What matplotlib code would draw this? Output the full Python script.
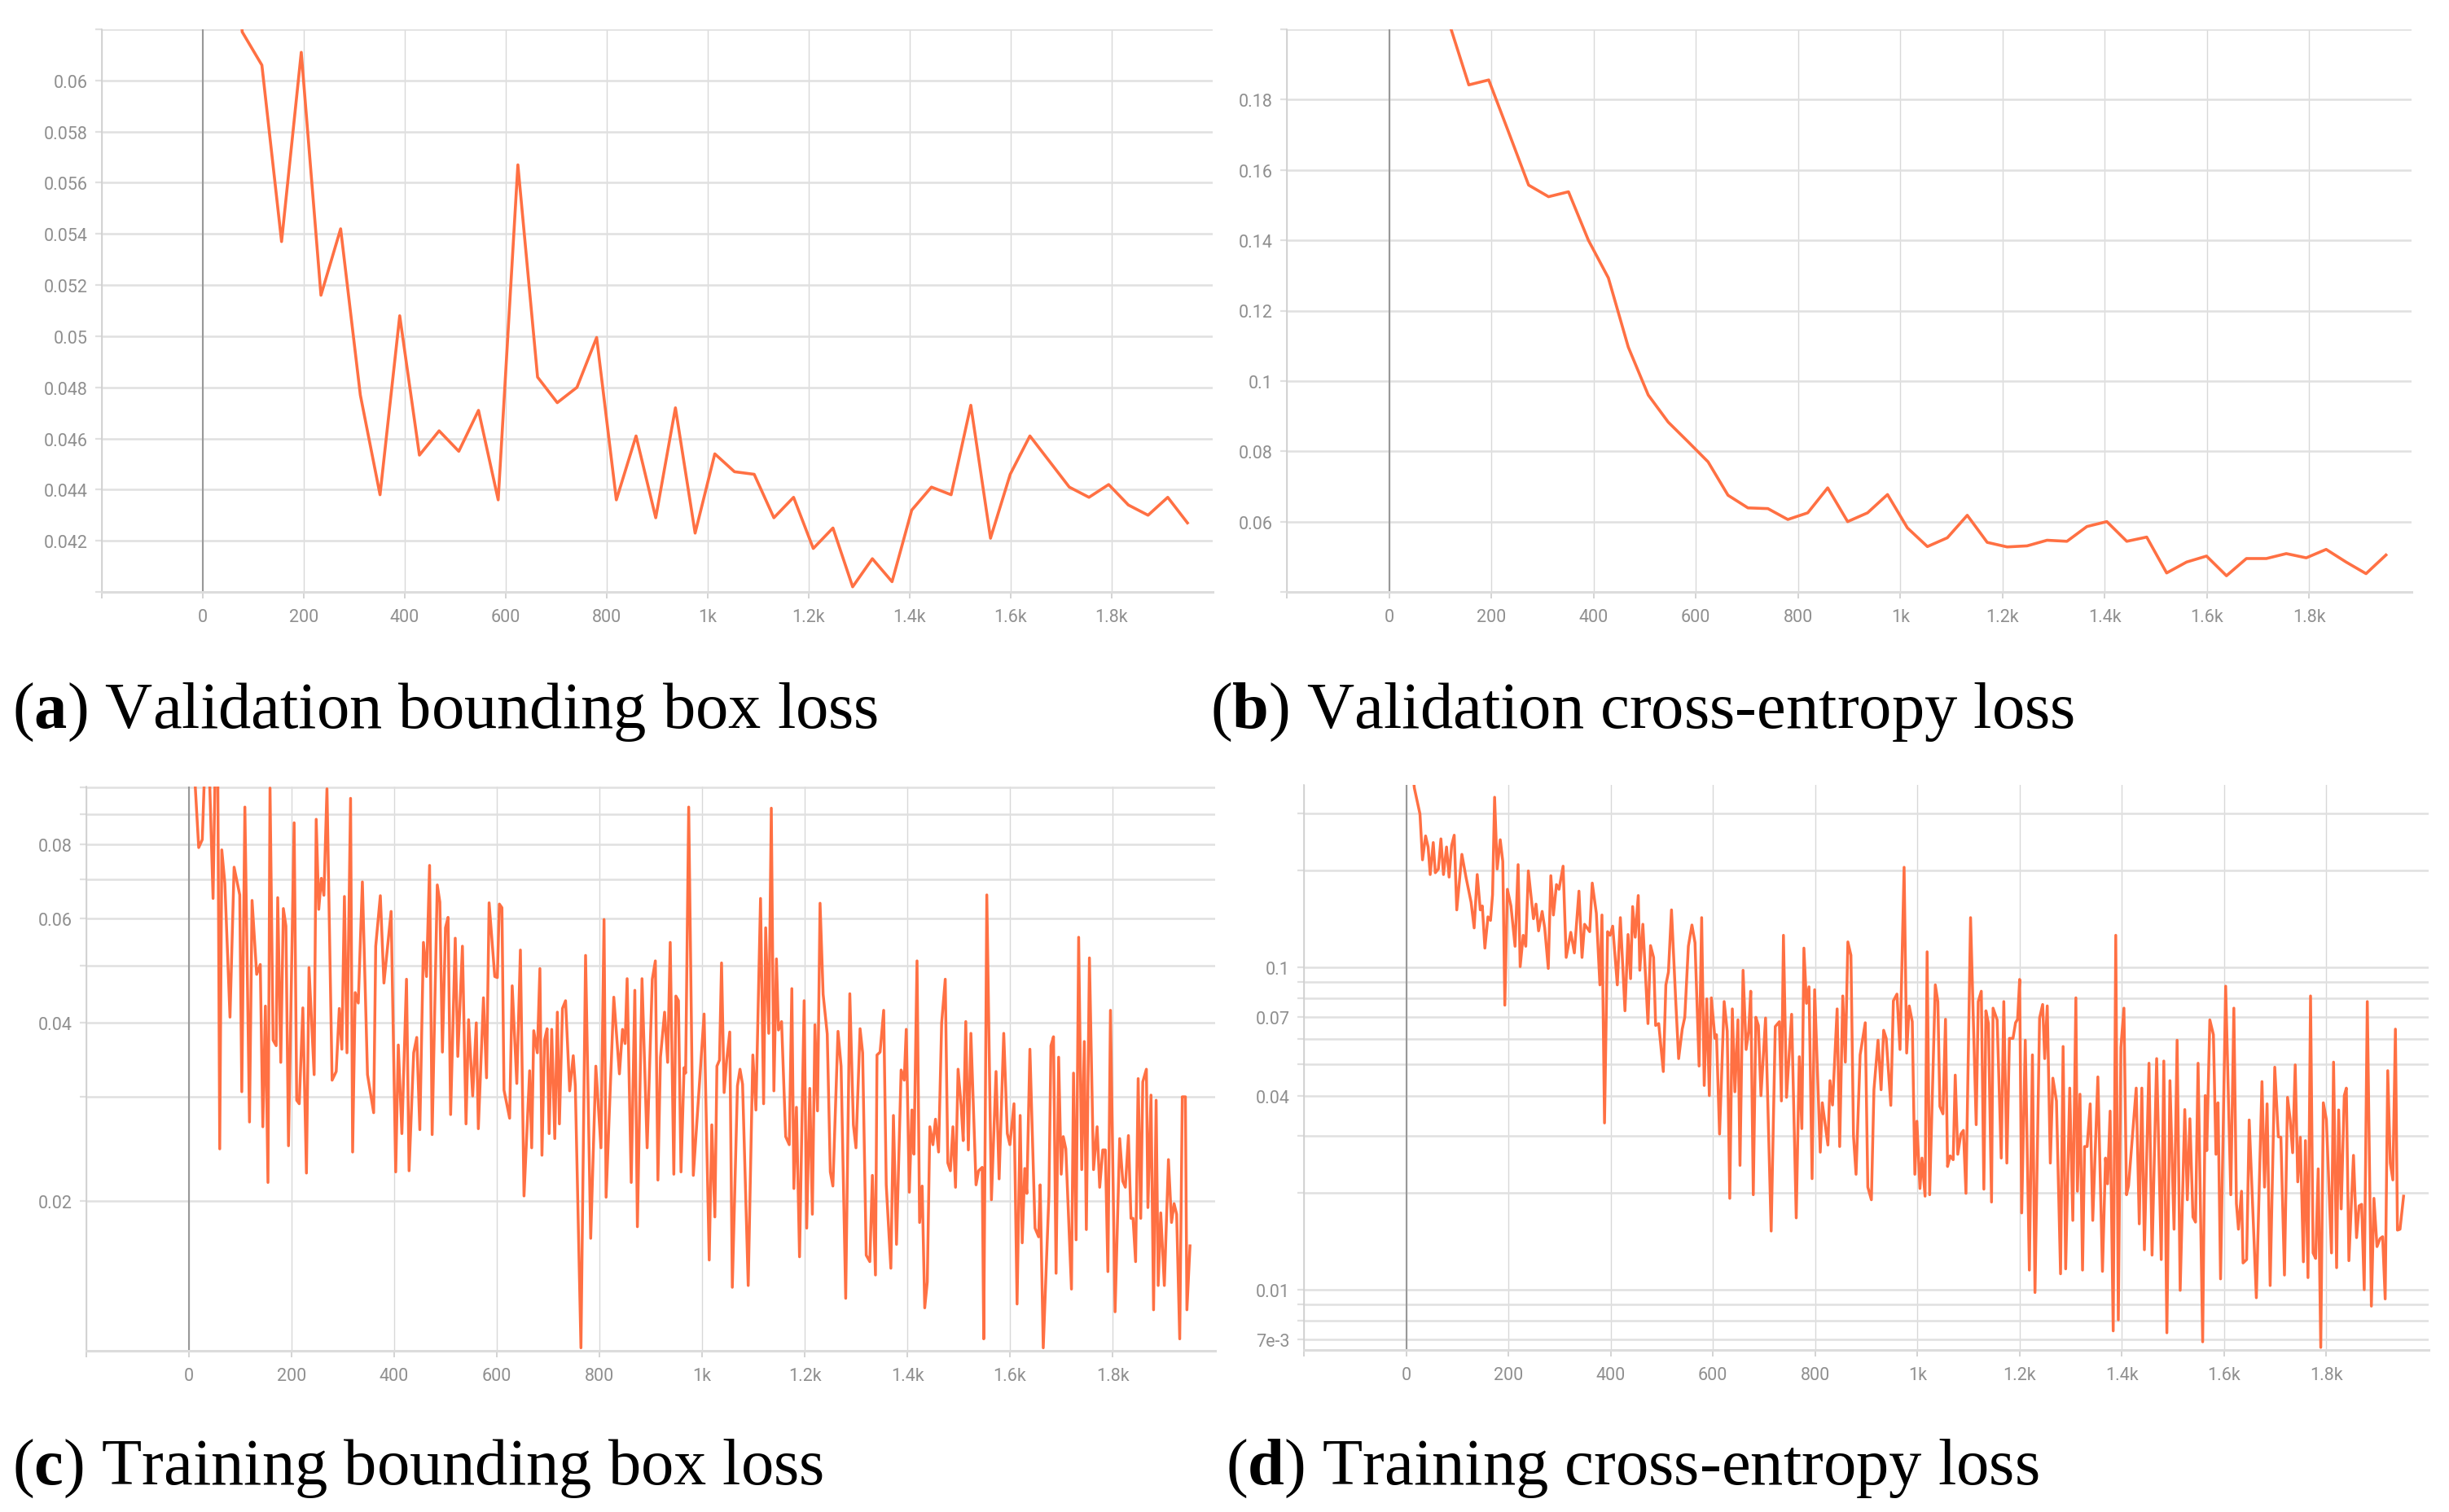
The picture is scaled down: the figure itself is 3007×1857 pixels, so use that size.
import matplotlib
matplotlib.use("Agg")
import matplotlib.pyplot as plt
from matplotlib.ticker import NullLocator, FixedLocator, FixedFormatter

plt.rcParams['font.family'] = ['Roboto', 'DejaVu Sans']
plt.rcParams['mathtext.fontset'] = 'custom'
plt.rcParams['mathtext.rm'] = 'Liberation Serif'
plt.rcParams['mathtext.bf'] = 'Liberation Serif:bold'

# ---------------- data ----------------
val_steps = [39, 78, 117, 156, 195, 234, 273, 312, 351, 390, 429, 468, 507, 546, 585,
             624, 663, 702, 741, 780, 819, 858, 897, 936, 975, 1014, 1053, 1092, 1131, 1170,
             1209, 1248, 1287, 1326, 1365, 1404, 1443, 1482, 1521, 1560, 1599, 1638, 1677,
             1716, 1755, 1794, 1833, 1872, 1911, 1950]

val_bbox_loss = [0.0750, 0.0619, 0.0606, 0.0537, 0.0611, 0.0516, 0.0542, 0.0477, 0.0438, 0.0508,
                 0.04535, 0.0463, 0.0455, 0.0471, 0.0436, 0.0567, 0.0484, 0.0474, 0.0480, 0.04995,
                 0.0436, 0.0461, 0.0429, 0.0472, 0.0423, 0.0454, 0.0447, 0.0446, 0.0429, 0.0437,
                 0.0417, 0.0425, 0.0402, 0.0413, 0.0404, 0.0432, 0.0441, 0.0438, 0.0473, 0.0421,
                 0.0446, 0.0461, 0.0451, 0.0441, 0.0437, 0.0442, 0.0434, 0.0430, 0.0437, 0.0427]

val_ce_loss = [0.300, 0.240, 0.202, 0.1842, 0.1856, 0.1707, 0.1557, 0.1524, 0.1538, 0.1400,
               0.1293, 0.1096, 0.0960, 0.0883, 0.0827, 0.0770, 0.0675, 0.0639, 0.0637, 0.0606,
               0.0625, 0.0696, 0.0600, 0.0625, 0.0677, 0.0582, 0.0529, 0.0554, 0.0618, 0.0541,
               0.0528, 0.0531, 0.0547, 0.0544, 0.0586, 0.0600, 0.0544, 0.0556, 0.0454, 0.0485,
               0.0502, 0.0446, 0.0495, 0.0495, 0.0509, 0.0497, 0.0521, 0.0485, 0.0452, 0.0505]

train_bbox_steps = [0, 11, 19, 26, 31, 38, 47, 52, 56, 60, 64, 70, 80, 88, 99, 103, 109, 118, 123, 132,
                    139, 144, 149, 154, 158, 164, 170, 173, 179, 184, 189, 194, 205, 210, 215, 222, 229, 234, 244, 248,
                    253, 258, 263, 269, 279, 287, 293, 298, 303, 308, 315, 319, 324, 330, 338, 348, 360, 364, 373, 380,
                    385, 394, 403, 408, 415, 424, 429, 438, 444, 450, 457, 463, 469, 474, 484, 489, 494, 500, 505, 510,
                    519, 524, 533, 540, 545, 553, 560, 564, 574, 580, 585, 596, 601, 605, 610, 614, 625, 630, 639, 646,
                    653, 664, 668, 672, 679, 684, 688, 693, 698, 702, 707, 713, 718, 722, 728, 734, 738, 742, 749, 753,
                    764, 773, 783, 793, 803, 809, 813, 828, 839, 845, 850, 854, 862, 869, 874, 883, 893, 903, 909, 914,
                    919, 927, 933, 938, 945, 949, 954, 959, 965, 968, 974, 983, 1004, 1014, 1019, 1025, 1029, 1034, 1038, 1043,
                    1048, 1054, 1059, 1069, 1074, 1079, 1090, 1099, 1105, 1114, 1120, 1124, 1130, 1135, 1140, 1145, 1149, 1155, 1163, 1170,
                    1175, 1179, 1184, 1190, 1199, 1204, 1210, 1215, 1220, 1225, 1230, 1236, 1244, 1250, 1255, 1265, 1271, 1280, 1288, 1295,
                    1300, 1308, 1313, 1320, 1327, 1332, 1338, 1341, 1347, 1354, 1359, 1368, 1373, 1379, 1388, 1394, 1398, 1404, 1409, 1413,
                    1419, 1424, 1429, 1434, 1439, 1444, 1450, 1455, 1461, 1467, 1474, 1479, 1484, 1489, 1494, 1499, 1505, 1509, 1514, 1519,
                    1524, 1534, 1539, 1546, 1549, 1555, 1564, 1573, 1579, 1588, 1595, 1600, 1608, 1614, 1620, 1624, 1629, 1633, 1639, 1649,
                    1656, 1659, 1665, 1676, 1680, 1685, 1690, 1695, 1700, 1704, 1709, 1720, 1724, 1729, 1734, 1740, 1745, 1749, 1755, 1763,
                    1770, 1775, 1781, 1786, 1791, 1796, 1805, 1814, 1820, 1825, 1831, 1836, 1840, 1845, 1850, 1855, 1859, 1866, 1869, 1875,
                    1880, 1885, 1889, 1894, 1901, 1909, 1915, 1920, 1925, 1931, 1936, 1942, 1945, 1951]

train_bbox_loss = [0.140, 0.105, 0.0791, 0.0816, 0.110, 0.120, 0.0649, 0.120, 0.115, 0.0245, 0.0784, 0.0688, 0.0409, 0.0733, 0.0658, 0.0306, 0.0926, 0.0272, 0.0644, 0.0483,
                   0.0502, 0.0267, 0.0427, 0.0215, 0.0997, 0.0374, 0.0366, 0.0651, 0.0343, 0.0624, 0.0583, 0.0248, 0.0871, 0.0296, 0.0292, 0.0424, 0.0223, 0.0496, 0.0327, 0.0883,
                   0.0622, 0.0702, 0.0657, 0.0994, 0.0320, 0.0331, 0.0423, 0.0361, 0.0654, 0.0356, 0.0958, 0.0242, 0.0450, 0.0432, 0.0692, 0.0327, 0.0282, 0.0539, 0.0656, 0.0467,
                   0.0516, 0.0617, 0.0224, 0.0367, 0.0260, 0.0474, 0.0225, 0.0356, 0.0378, 0.0264, 0.0547, 0.0479, 0.0738, 0.0259, 0.0684, 0.0640, 0.0357, 0.0579, 0.0603, 0.0280,
                   0.0556, 0.0351, 0.0539, 0.0270, 0.0405, 0.0301, 0.0400, 0.0265, 0.0441, 0.0323, 0.0638, 0.0479, 0.0477, 0.0635, 0.0626, 0.0308, 0.0276, 0.0462, 0.0316, 0.0531,
                   0.0204, 0.0332, 0.0246, 0.0388, 0.0356, 0.0494, 0.0239, 0.0374, 0.0391, 0.0260, 0.0390, 0.0255, 0.0417, 0.0270, 0.0423, 0.0436, 0.0366, 0.0307, 0.0352, 0.0313,
                   0.0113, 0.0520, 0.0173, 0.0338, 0.0246, 0.0598, 0.0203, 0.0442, 0.0328, 0.0390, 0.0369, 0.0475, 0.0215, 0.0454, 0.0181, 0.0475, 0.0246, 0.0474, 0.0509, 0.0217,
                   0.0350, 0.0417, 0.0343, 0.0547, 0.0222, 0.0444, 0.0436, 0.0224, 0.0336, 0.0329, 0.0926, 0.0221, 0.0414, 0.0159, 0.0269, 0.0188, 0.0338, 0.0346, 0.0505, 0.0305,
                   0.0346, 0.0386, 0.0143, 0.0313, 0.0334, 0.0315, 0.0144, 0.0353, 0.0285, 0.0649, 0.0292, 0.0579, 0.0384, 0.0922, 0.0307, 0.0513, 0.0389, 0.0402, 0.0257, 0.0249,
                   0.0457, 0.0210, 0.0288, 0.0161, 0.0436, 0.0180, 0.0310, 0.0190, 0.0397, 0.0284, 0.0637, 0.0447, 0.0383, 0.0224, 0.0212, 0.0387, 0.0338, 0.0137, 0.0448, 0.0269,
                   0.0246, 0.0391, 0.0356, 0.0162, 0.0158, 0.0221, 0.0150, 0.0353, 0.0357, 0.0420, 0.0213, 0.0154, 0.0279, 0.0169, 0.0333, 0.0320, 0.0390, 0.0207, 0.0285, 0.0240,
                   0.0509, 0.0184, 0.0212, 0.0132, 0.0146, 0.0267, 0.0249, 0.0275, 0.0242, 0.0400, 0.0474, 0.0232, 0.0225, 0.0267, 0.0211, 0.0334, 0.0290, 0.0253, 0.0402, 0.0244,
                   0.0384, 0.0213, 0.0225, 0.0228, 0.0117, 0.0658, 0.0201, 0.0331, 0.0218, 0.0384, 0.0260, 0.0249, 0.0292, 0.0134, 0.0279, 0.0170, 0.0227, 0.0206, 0.0361, 0.0180,
                   0.0174, 0.0213, 0.0113, 0.0204, 0.0366, 0.0379, 0.0151, 0.0350, 0.0222, 0.0257, 0.0245, 0.0142, 0.0329, 0.0172, 0.0558, 0.0226, 0.0372, 0.0179, 0.0515, 0.0226,
                   0.0267, 0.0211, 0.0244, 0.0244, 0.0152, 0.0420, 0.0130, 0.0255, 0.0216, 0.0211, 0.0258, 0.0187, 0.0187, 0.0158, 0.0322, 0.0187, 0.0318, 0.0334, 0.0195, 0.0302,
                   0.0131, 0.0296, 0.0144, 0.0191, 0.0144, 0.0235, 0.0184, 0.0198, 0.0190, 0.0117, 0.0300, 0.0300, 0.0131, 0.0168]

train_ce_steps = [0, 10, 16, 27, 32, 38, 43, 47, 53, 57, 63, 68, 73, 79, 84, 89, 94, 99, 109, 117,
                  127, 133, 139, 145, 149, 154, 160, 165, 169, 173, 178, 184, 189, 193, 198, 205, 213, 219, 223, 229,
                  234, 239, 249, 254, 259, 266, 271, 278, 283, 288, 294, 299, 307, 313, 322, 329, 338, 344, 349, 359,
                  364, 372, 379, 383, 388, 394, 399, 404, 413, 419, 428, 434, 439, 443, 448, 454, 457, 463, 473, 478,
                  484, 488, 494, 503, 508, 513, 519, 527, 533, 540, 545, 552, 559, 565, 573, 578, 583, 588, 593, 597,
                  604, 607, 613, 622, 628, 633, 638, 643, 649, 653, 659, 665, 670, 674, 679, 684, 689, 694, 703, 714,
                  722, 730, 734, 738, 744, 754, 763, 769, 774, 778, 783, 788, 794, 799, 810, 814, 825, 829, 834, 843,
                  848, 854, 859, 864, 870, 875, 880, 888, 898, 903, 910, 915, 923, 929, 934, 939, 948, 953, 960, 966,
                  974, 979, 984, 990, 995, 999, 1005, 1009, 1015, 1019, 1024, 1035, 1040, 1044, 1050, 1055, 1059, 1064, 1070, 1074,
                  1079, 1085, 1090, 1095, 1104, 1115, 1119, 1125, 1130, 1134, 1139, 1145, 1148, 1156, 1164, 1169, 1175, 1180, 1187, 1192,
                  1196, 1200, 1204, 1211, 1219, 1225, 1230, 1239, 1245, 1249, 1254, 1260, 1265, 1272, 1280, 1285, 1290, 1298, 1304, 1310,
                  1313, 1318, 1323, 1327, 1332, 1338, 1343, 1353, 1362, 1368, 1372, 1377, 1383, 1388, 1393, 1398, 1404, 1409, 1413, 1428,
                  1434, 1439, 1444, 1453, 1459, 1468, 1477, 1482, 1488, 1494, 1502, 1508, 1514, 1523, 1528, 1533, 1539, 1544, 1549, 1558,
                  1563, 1566, 1572, 1579, 1584, 1588, 1593, 1603, 1613, 1619, 1624, 1628, 1634, 1637, 1644, 1649, 1663, 1674, 1679, 1684,
                  1690, 1699, 1706, 1711, 1718, 1724, 1729, 1734, 1739, 1744, 1749, 1755, 1759, 1764, 1769, 1774, 1779, 1784, 1789, 1794,
                  1800, 1810, 1814, 1820, 1824, 1829, 1835, 1839, 1844, 1853, 1859, 1864, 1869, 1874, 1880, 1888, 1893, 1899, 1905, 1910,
                  1915, 1920, 1925, 1930, 1935, 1939, 1944, 1951]

train_ce_loss = [0.600, 0.450, 0.360, 0.299, 0.2155, 0.2556, 0.2362, 0.194, 0.2438, 0.1965, 0.2018, 0.2503, 0.194, 0.2362, 0.1905, 0.239, 0.257, 0.1507, 0.2241, 0.1905,
                 0.1592, 0.1325, 0.194, 0.1507, 0.155, 0.1147, 0.1434, 0.1398, 0.1678, 0.3369, 0.2018, 0.2488, 0.2131, 0.0763, 0.1746, 0.155, 0.1162, 0.2082, 0.1005, 0.1257,
                 0.1162, 0.1991, 0.1415, 0.1571, 0.1297, 0.1491, 0.1325, 0.0992, 0.1924, 0.1453, 0.1806, 0.1746, 0.206, 0.1073, 0.1284, 0.1108, 0.1723, 0.1073, 0.136, 0.129,
                 0.1825, 0.1472, 0.0882, 0.1453, 0.0329, 0.129, 0.1257, 0.1342, 0.0882, 0.1426, 0.0733, 0.1264, 0.0922, 0.1543, 0.124, 0.167, 0.0979, 0.136, 0.0669, 0.1168,
                 0.1073, 0.066, 0.0669, 0.0475, 0.0882, 0.0966, 0.1507, 0.0804, 0.0521, 0.0643, 0.070, 0.1162, 0.1353, 0.1192, 0.0494, 0.1426, 0.043, 0.0798, 0.040, 0.0804,
                 0.0602, 0.0618, 0.0304, 0.0783, 0.0634, 0.0192, 0.0743, 0.0411, 0.0687, 0.0243, 0.0979, 0.0556, 0.0634, 0.0843, 0.0197, 0.070, 0.066, 0.040, 0.0696, 0.0152,
                 0.0655, 0.0678, 0.0385, 0.1257, 0.0395, 0.0715, 0.0167, 0.0528, 0.0316, 0.1147, 0.0773, 0.087, 0.0221, 0.0852, 0.0267, 0.038, 0.0281, 0.0445, 0.0374, 0.0743,
                 0.0278, 0.0815, 0.0508, 0.1199, 0.109, 0.030, 0.0228, 0.0535, 0.0673, 0.0208, 0.019, 0.0417, 0.0594, 0.0417, 0.0638, 0.0602, 0.0373, 0.0787, 0.0826, 0.0556,
                 0.2043, 0.0542, 0.0759, 0.0678, 0.0228, 0.0333, 0.0206, 0.0256, 0.0195, 0.1117, 0.0197, 0.0882, 0.0783, 0.037, 0.0351, 0.069, 0.0241, 0.026, 0.0253, 0.0463,
                 0.0263, 0.0304, 0.0312, 0.0199, 0.1426, 0.0325, 0.0783, 0.0843, 0.0205, 0.0733, 0.0669, 0.0187, 0.0747, 0.0687, 0.0256, 0.0783, 0.0247, 0.0602, 0.0602, 0.0673,
                 0.069, 0.0917, 0.0173, 0.0594, 0.0115, 0.0535, 0.0098, 0.0696, 0.0767, 0.0521, 0.0759, 0.0247, 0.0453, 0.0385, 0.0112, 0.0568, 0.0116, 0.0422, 0.0164, 0.0804,
                 0.0202, 0.0404, 0.0115, 0.0278, 0.0278, 0.0377, 0.0164, 0.0457, 0.0114, 0.0256, 0.0213, 0.0358, 0.00745, 0.1257, 0.00806, 0.0564, 0.0747, 0.0197, 0.021, 0.0422,
                 0.016, 0.0422, 0.0133, 0.0504, 0.0128, 0.0521, 0.0124, 0.0512, 0.00735, 0.0445, 0.0154, 0.0594, 0.00995, 0.0362, 0.019, 0.0339, 0.0168, 0.0162, 0.0504, 0.00689,
                 0.040, 0.027, 0.0687, 0.0618, 0.0263, 0.038, 0.0108, 0.0874, 0.0197, 0.0747, 0.0185, 0.0154, 0.0202, 0.0121, 0.0124, 0.0336, 0.00944, 0.0442, 0.0208, 0.0377,
                 0.0103, 0.049, 0.0298, 0.0297, 0.0111, 0.0395, 0.0339, 0.0266, 0.0498, 0.0216, 0.0297, 0.0122, 0.029, 0.0109, 0.0815, 0.013, 0.0125, 0.0237, 0.00662, 0.038,
                 0.0337, 0.013, 0.0508, 0.0117, 0.0361, 0.0178, 0.040, 0.0422, 0.0123, 0.0261, 0.0145, 0.0182, 0.0184, 0.010, 0.0783, 0.00889, 0.0192, 0.0136, 0.0144, 0.0146,
                 0.00936, 0.0478, 0.0247, 0.0219, 0.0643, 0.0153, 0.0154, 0.0195]

x_ticks = [-200, 0, 200, 400, 600, 800, 1000, 1200, 1400, 1600, 1800]
x_tick_labels = ['', '0', '200', '400', '600', '800', '1k', '1.2k', '1.4k', '1.6k', '1.8k']

a_yticks = [0.040, 0.042, 0.044, 0.046, 0.048, 0.050, 0.052, 0.054, 0.056, 0.058, 0.060, 0.062]
a_ylabels = ['', '0.042', '0.044', '0.046', '0.048', '0.05', '0.052', '0.054', '0.056', '0.058', '0.06', '']
b_yticks = [0.04, 0.06, 0.08, 0.10, 0.12, 0.14, 0.16, 0.18, 0.20]
b_ylabels = ['', '0.06', '0.08', '0.1', '0.12', '0.14', '0.16', '0.18', '']
c_yticks = [0.02, 0.03, 0.04, 0.05, 0.06, 0.07, 0.08, 0.09, 0.10]
c_ylabels = ['0.02', '', '0.04', '', '0.06', '', '0.08', '', '']
d_yticks = [0.007, 0.008, 0.009, 0.01, 0.02, 0.03, 0.04, 0.05, 0.06, 0.07, 0.08, 0.09, 0.1, 0.2, 0.3]
d_ylabels = ['7e-3', '', '', '0.01', '', '', '0.04', '', '', '0.07', '', '', '0.1', '', '']

captions = [r'($\mathbf{a}$) Validation bounding box loss',
            r'($\mathbf{b}$) Validation cross-entropy loss',
            r'($\mathbf{c}$) Training bounding box loss',
            r'($\mathbf{d}$) Training cross-entropy loss']

# ---------------- drawing ----------------
W, H = 3007, 1858
fig = plt.figure(figsize=(W / 100, H / 100), dpi=100)
fig.patch.set_facecolor('white')

LINE = '#ff7043'
TICKC = '#8f8f8f'


def px_axes(x0, x1, y0, y1):
    return fig.add_axes([x0 / W, 1 - y1 / H, (x1 - x0) / W, (y1 - y0) / H])


def style(ax, yticks, ylabels, ylim, log=False):
    if log:
        ax.set_yscale('log')
    ax.set_xlim(-200, 2000)
    ax.set_ylim(*ylim)
    ax.xaxis.set_major_locator(FixedLocator(x_ticks))
    ax.xaxis.set_major_formatter(FixedFormatter(x_tick_labels))
    ax.yaxis.set_major_locator(FixedLocator(yticks))
    ax.yaxis.set_major_formatter(FixedFormatter(ylabels))
    ax.xaxis.set_minor_locator(NullLocator())
    ax.yaxis.set_minor_locator(NullLocator())
    ax.grid(axis='y', color='#e0e0e0', linewidth=1.8, zorder=0)
    ax.grid(axis='x', color='#d8d8d8', linewidth=1.0, zorder=0)
    ax.axvline(0, color='#999999', linewidth=1.5, zorder=1)
    for s in ['top', 'right']:
        ax.spines[s].set_visible(False)
    ax.spines['left'].set_color('#cfcfcf')
    ax.spines['left'].set_linewidth(1.2)
    ax.spines['bottom'].set_color('#dcdcdc')
    ax.spines['bottom'].set_linewidth(2.2)
    ax.tick_params(axis='x', length=6, width=1.2, color='#cccccc', pad=8.5,
                   labelsize=15.5, labelcolor=TICKC)
    ax.tick_params(axis='y', length=6, width=1.6, color='#e0e0e0', pad=6.5,
                   labelsize=15.5, labelcolor=TICKC)
    ax.set_axisbelow(True)


ax_a = px_axes(125, 1489, 37, 728)
style(ax_a, a_yticks, a_ylabels, (0.0400, 0.0620))
ax_a.plot(val_steps, val_bbox_loss, color=LINE, linewidth=2.6, zorder=3)

ax_b = px_axes(1580, 2961, 37, 728)
style(ax_b, b_yticks, b_ylabels, (0.040, 0.200))
ax_b.plot(val_steps, val_ce_loss, color=LINE, linewidth=2.6, zorder=3)

ax_c = px_axes(106, 1492, 967, 1660)
style(ax_c, c_yticks, c_ylabels, (0.01117, 0.1003), log=True)
ax_c.plot(train_bbox_steps, train_bbox_loss, color=LINE, linewidth=2.5, zorder=3)

ax_d = px_axes(1601, 2982, 965, 1659)
style(ax_d, d_yticks, d_ylabels, (0.0065, 0.368), log=True)
ax_d.plot(train_ce_steps, train_ce_loss, color=LINE, linewidth=2.5, zorder=3)

cap_pos = [(15, 894), (1486, 894), (15, 1823), (1505, 1823)]
for (cx, cy), cap in zip(cap_pos, captions):
    fig.text(cx / W, 1 - cy / H, cap, fontfamily='Liberation Serif', fontsize=58,
             ha='left', va='baseline', color='black')

fig.savefig('out.png', dpi=100, facecolor='white')
